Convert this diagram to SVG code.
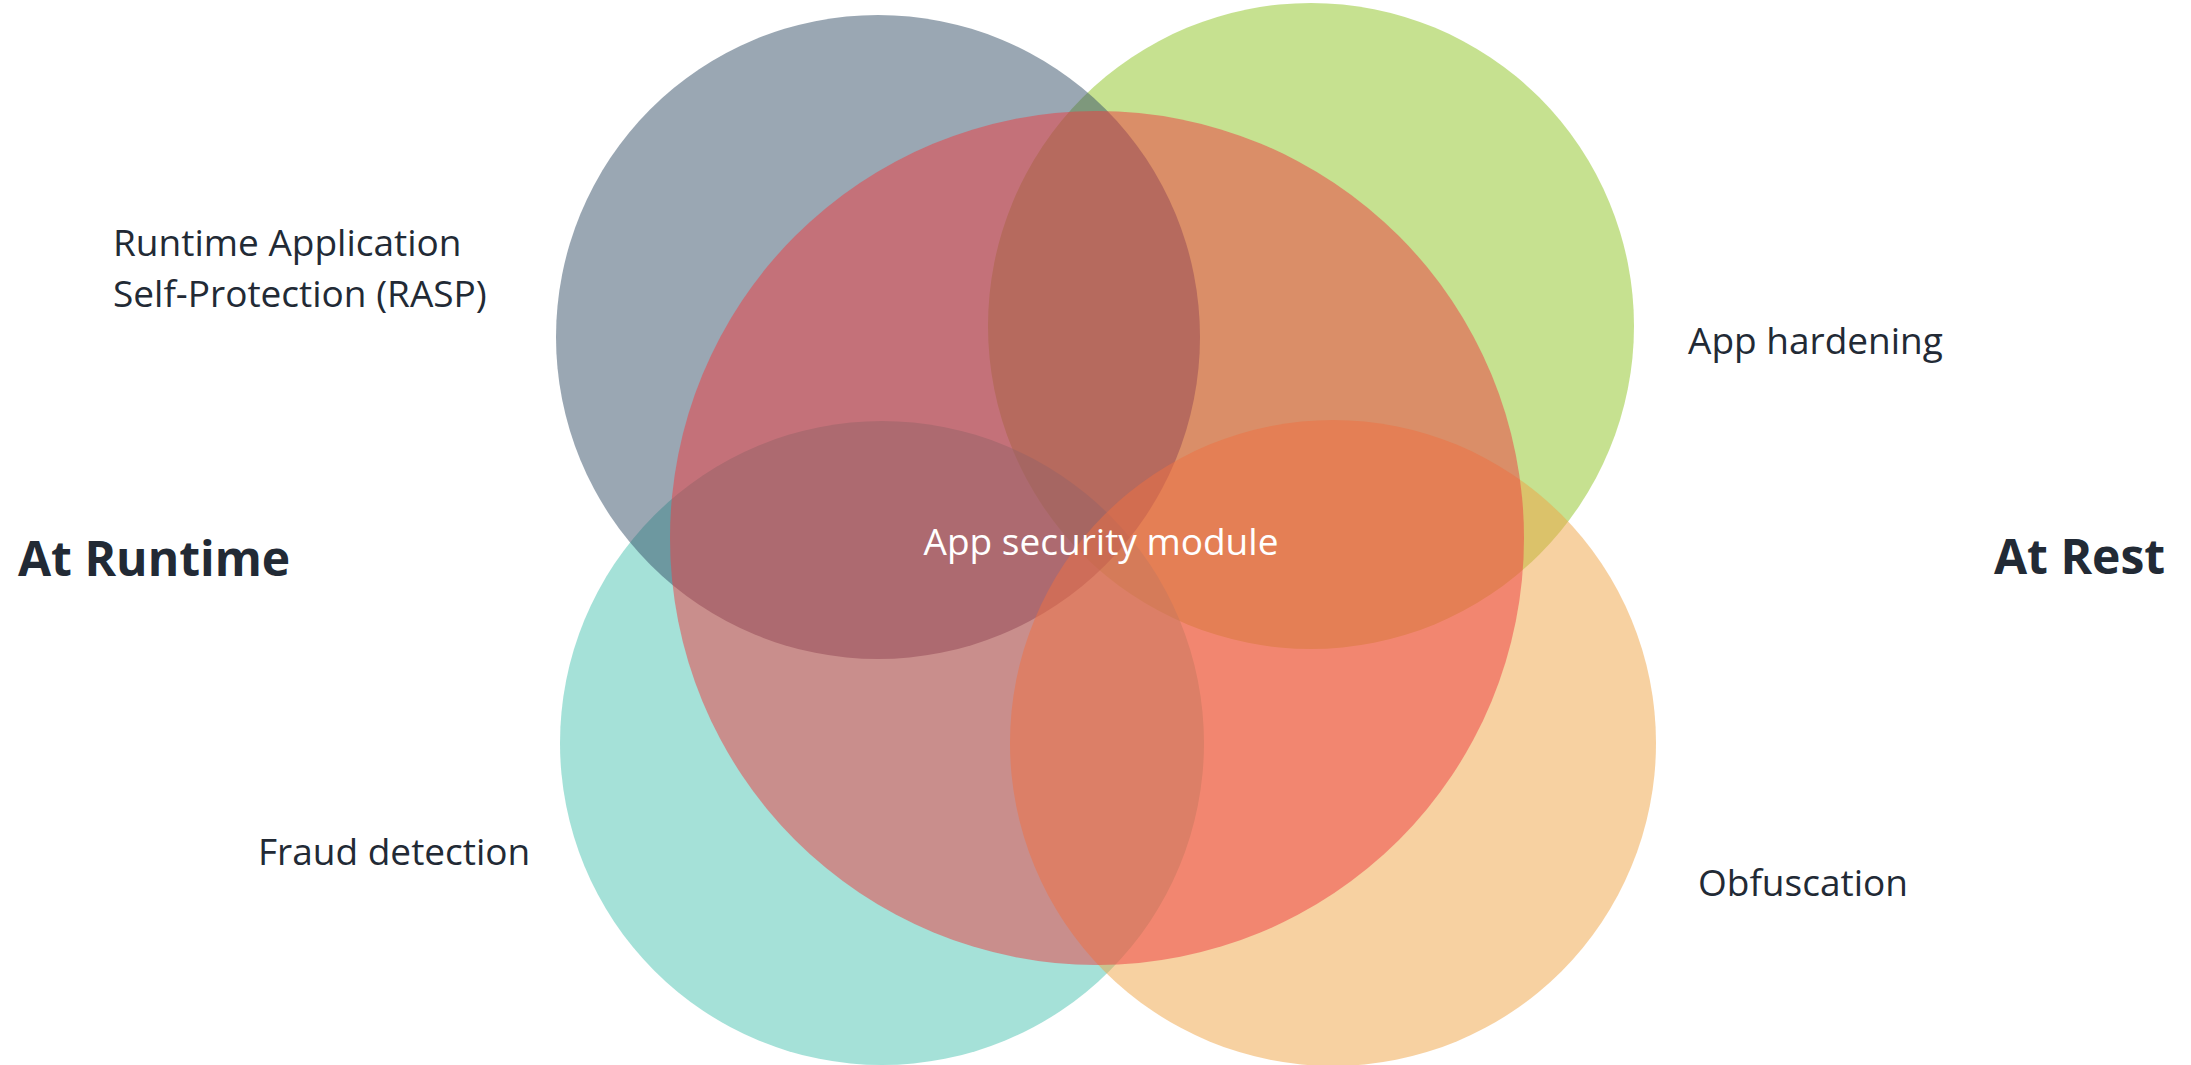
<svg xmlns="http://www.w3.org/2000/svg" width="2191" height="1065" viewBox="0 0 2191 1065">
<style>
.c{fill-opacity:0.5}
.lbl{font-family:"Open Sans","Noto Sans","Liberation Sans",sans-serif;font-size:37px;fill:#222a35}
.big{font-family:"Open Sans","Noto Sans","Liberation Sans",sans-serif;font-size:48px;font-weight:700;fill:#222a35}
.mid{font-family:"Open Sans","Noto Sans","Liberation Sans",sans-serif;font-size:37px;fill:#ffffff;text-anchor:middle}
</style>
<rect width="2191" height="1065" fill="#ffffff"/>
<g id="app-hardening">
<circle class="c" cx="1311" cy="326" r="323" fill="#8dc321"/>
</g>
<g id="fraud-detection">
<circle class="c" cx="882" cy="743" r="322" fill="#4bc3b1"/>
</g>
<g id="rasp">
<circle class="c" cx="878" cy="337" r="322" fill="#354f67"/>
</g>
<g id="obfuscation">
<circle class="c" cx="1333" cy="743" r="323" fill="#efa343"/>
</g>
<g id="app-security-module">
<circle class="c" cx="1097" cy="538" r="427" fill="#ee3c3f"/>
<text class="mid" x="1101" y="555">App security module</text>
</g>
<g id="labels">
<text class="lbl" x="113" y="256">Runtime Application</text>
<text class="lbl" x="113" y="307">Self-Protection (RASP)</text>
<text class="lbl" x="1688" y="354">App hardening</text>
<text class="lbl" x="258" y="865">Fraud detection</text>
<text class="lbl" x="1698" y="896">Obfuscation</text>
<text class="big" x="18" y="576">At Runtime</text>
<text class="big" x="1994" y="574">At Rest</text>
</g>
</svg>
